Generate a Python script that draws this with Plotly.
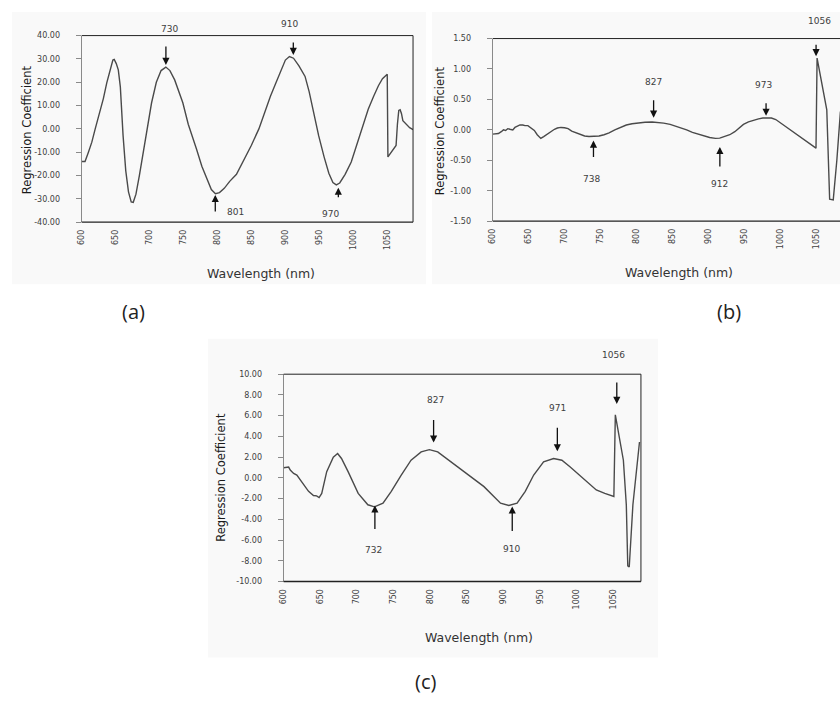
import plotly.graph_objects as go

W, H = 840, 702

# ---------------- data ----------------
wl_a = [600, 605, 610, 615, 620, 627, 632, 637, 641, 646, 648, 651, 654, 657, 661, 665, 669, 673, 676,
        680, 685, 690, 696, 703, 710, 717, 724, 730, 737, 743, 749, 757, 763, 769, 777, 785, 791, 797,
        803, 810, 818, 828, 840, 850, 861, 870, 878, 886, 893, 900, 906, 912, 920, 929, 935, 941, 949,
        957, 964, 970, 975, 980, 988, 997, 1005, 1013, 1022, 1030, 1037, 1043, 1048, 1050, 1051, 1055,
        1060, 1063, 1065, 1067, 1069, 1071, 1073, 1078, 1083, 1088]
coef_a = [-14, -14, -10, -5.7, 0, 7, 13, 19.7, 24, 29.5, 29.8, 28, 25.3, 18, -2.8, -18, -27, -31.3, -31.5,
          -28, -20, -11, 0, 11.2, 20, 25, 26.5, 25, 21, 16, 11.2, 2, -3, -8.5, -16, -22, -26, -27.8,
          -27.3, -25.5, -22.5, -19.5, -13, -7, 0, 7.5, 14, 19.7, 25, 29.5, 31, 30.3, 27, 22.5, 16, 8, -2.9,
          -12, -19, -23, -24, -23.2, -19.5, -14.2, -7, 1, 8.4, 14, 18.5, 21.5, 23.2, 23.4, -12, -10.5,
          -8.5, -7.1, 2, 7.9, 8.2, 6.5, 3.5, 1.8, 0.5, -0.3]

wl_b = [600, 605, 608, 612, 615, 618, 621, 624, 628, 631, 635, 638, 642, 645, 649, 653, 658, 662, 667,
        671, 676, 681, 686, 690, 695, 700, 705, 710, 716, 722, 728, 734, 741, 748, 755, 762, 770, 778,
        786, 794, 802, 812, 822, 830, 838, 847, 855, 862, 870, 878, 886, 894, 902, 910, 916, 922, 930,
        937, 943, 949, 956, 963, 970, 976, 982, 988, 994, 1000, 1009, 1018, 1026, 1033, 1041, 1050,
        1051.5, 1058, 1065, 1069, 1074, 1079, 1084]
coef_b = [-0.07, -0.07, -0.06, -0.03, 0.0, -0.01, 0.02, 0.01, 0.0, 0.04, 0.07, 0.08, 0.08, 0.07, 0.07,
          0.03, -0.01, -0.08, -0.14, -0.11, -0.07, -0.02, 0.01, 0.03, 0.04, 0.035, 0.02, -0.02, -0.05,
          -0.08, -0.1, -0.11, -0.11, -0.1, -0.08, -0.05, 0.0, 0.04, 0.08, 0.1, 0.115, 0.125, 0.13, 0.125,
          0.11, 0.09, 0.06, 0.03, 0.0, -0.04, -0.07, -0.1, -0.125, -0.14, -0.135, -0.11, -0.08, -0.03,
          0.03, 0.09, 0.13, 0.16, 0.18, 0.195, 0.2, 0.195, 0.17, 0.12, 0.04, -0.04, -0.11, -0.16, -0.23,
          -0.30, 1.18, 0.75, 0.33, -1.14, -1.15, -0.5, 0.3]

wl_c = [600, 606.8, 609, 613.6, 618, 625, 634, 640.7, 645, 648.4, 652, 658.8, 667.8, 673.7, 679, 688,
        701.8, 715, 724, 735.7, 747, 760.6, 774, 787.8, 799, 810.4, 828.4, 851, 873.6, 896.2, 907.5,
        918.8, 930, 941.5, 955, 968.7, 980, 991, 1009, 1027, 1038.6, 1051, 1053, 1064, 1068, 1070,
        1072, 1077, 1086]
coef_c = [0.98, 1.04, 0.75, 0.43, 0.27, -0.37, -1.3, -1.7, -1.74, -1.9, -1.5, 0.6, 2.0, 2.35, 1.87, 0.6,
          -1.5, -2.6, -2.8, -2.45, -1.3, 0.27, 1.7, 2.5, 2.72, 2.5, 1.55, 0.43, -0.85, -2.44, -2.66,
          -2.44, -1.3, 0.27, 1.55, 1.87, 1.7, 1.07, -0.05, -1.17, -1.5, -1.8, 6.08, 1.7, -2.6, -8.5,
          -8.6, -2.6, 3.46]

x_ticks = [600, 650, 700, 750, 800, 850, 900, 950, 1000, 1050]
y_ticks_a = [-40, -30, -20, -10, 0, 10, 20, 30, 40]
y_ticks_b = [-1.5, -1.0, -0.5, 0.0, 0.5, 1.0, 1.5]
y_ticks_c = [-10, -8, -6, -4, -2, 0, 2, 4, 6, 8, 10]

# peak marks: label, arrow-tip wavelength, arrow-tip coefficient, label wavelength, label coefficient
mark_lbl_a = ["730", "910", "801", "970"]
mark_x_a = [724.1, 911.7, 796.8, 978]
mark_y_a = [27.4, 31.7, -28.3, -25.2]
lbl_x_a = [730, 905.8, 826.7, 966.8]
lbl_y_a = [43, 44.8, -35.6, -36.3]

mark_lbl_b = ["1056", "827", "973", "738", "912"]
mark_x_b = [1050.1, 824, 980.5, 740.3, 916.2]
mark_y_b = [1.21, 0.20, 0.23, -0.175, -0.28]
lbl_x_b = [1054.3, 824, 977.1, 738.1, 916.2]
lbl_y_b = [1.79, 0.79, 0.74, -0.80, -0.895]

mark_lbl_c = ["1056", "827", "971", "732", "910"]
mark_x_c = [1055, 804.8, 973.8, 724.6, 912.2]
mark_y_c = [7.13, 3.40, 2.56, -2.66, -2.76]
lbl_x_c = [1050.9, 807, 973.8, 722.3, 911.3]
lbl_y_c = [11.85, 7.51, 6.75, -7.0, -6.9]

# ---------------- layout helpers ----------------
def px(x):
    return x / W

def py(y):
    return 1 - y / H

FONT = "DejaVu Sans"
LINE = "#4a4a4a"

fig = go.Figure()

panels = [
    dict(wl=wl_a, coef=coef_a, xd=(78, 411), yd=(32, 221), xr=[600, 1088], yr=[-40, 40],
         yt=y_ticks_a, lbl=mark_lbl_a, mx=mark_x_a, my=mark_y_a, lx=lbl_x_a, ly=lbl_y_a,
         alen=[20, 14, 18, 11], right=True, ytitle=(23, 127), xtitle=(258, 273),
         bg=(8, 8, 424, 284)),
    dict(wl=wl_b, coef=coef_b, xd=(491, 840), yd=(35, 220), xr=[600, 1083.4], yr=[-1.5, 1.5],
         yt=y_ticks_b, lbl=mark_lbl_b, mx=mark_x_b, my=mark_y_b, lx=lbl_x_b, ly=lbl_y_b,
         alen=[13, 19, 14, 18, 21], right=False, ytitle=(438, 128), xtitle=(678, 272),
         bg=(430, 8, 840, 284)),
    dict(wl=wl_c, coef=coef_c, xd=(281, 640), yd=(375, 585), xr=[600, 1088], yr=[-10, 10],
         yt=y_ticks_c, lbl=mark_lbl_c, mx=mark_x_c, my=mark_y_c, lx=lbl_x_c, ly=lbl_y_c,
         alen=[23, 24, 25, 25, 26], right=True, ytitle=(218, 479), xtitle=(477, 642),
         bg=(205, 339, 657, 662)),
]

shapes = []
annotations = []

for i, p in enumerate(panels):
    k = "" if i == 0 else str(i + 1)
    xa, ya = "x" + k, "y" + k
    fig.add_trace(go.Scatter(x=p["wl"], y=p["coef"], mode="lines", xaxis=xa, yaxis=ya,
                             line=dict(color=LINE, width=1.4), showlegend=False, hoverinfo="skip"))

    fig.update_layout(**{
        "xaxis" + k: dict(domain=[px(p["xd"][0]), px(p["xd"][1])], range=p["xr"], anchor=ya,
                          tickvals=x_ticks, ticktext=[str(v) for v in x_ticks], tickangle=-90,
                          showgrid=False, zeroline=False, showline=False, ticks="",
                          ticklabelstandoff=5,
                          tickfont=dict(family=FONT, size=8, color="#404040")),
        "yaxis" + k: dict(domain=[py(p["yd"][1]), py(p["yd"][0])], range=p["yr"], anchor=xa,
                          tickvals=p["yt"], ticktext=["%.2f" % v for v in p["yt"]],
                          showgrid=False, zeroline=False, showline=True, linecolor="#8a8a8a",
                          linewidth=1, ticks="outside", ticklen=5, tickcolor="#8a8a8a",
                          ticklabelstandoff=14,
                          tickfont=dict(family=FONT, size=8, color="#404040")),
    })

    # panel background
    x0, y0, x1, y1 = p["bg"]
    shapes.append(dict(type="rect", xref="paper", yref="paper", x0=px(x0), x1=px(x1),
                       y0=py(y1), y1=py(y0), fillcolor="#f9f9f9", line=dict(width=0), layer="below"))
    # frame lines (top, bottom, right)
    dref = dict(xref=xa + " domain", yref=ya + " domain")
    shapes.append(dict(type="line", x0=0, x1=1, y0=1, y1=1, line=dict(color="#222", width=1), **dref))
    shapes.append(dict(type="line", x0=0, x1=1, y0=0, y1=0, line=dict(color="#222", width=1.3), **dref))
    if p["right"]:
        shapes.append(dict(type="line", x0=1, x1=1, y0=0, y1=1, line=dict(color="#222", width=1), **dref))

    # arrows + labels
    y0r, y1r = p["yr"]
    for lb, mx, my, lx, ly, al in zip(p["lbl"], p["mx"], p["my"], p["lx"], p["ly"], p["alen"]):
        ay = -al if ly > my else al
        annotations.append(dict(x=mx, y=my, xref=xa, yref=ya, text="", showarrow=True,
                                arrowhead=2, arrowsize=1.1, arrowwidth=1.3, arrowcolor="#111",
                                ax=0, ay=ay, standoff=0))
        annotations.append(dict(x=lx, y=(ly - y0r) / (y1r - y0r), xref=xa, yref=ya + " domain",
                                text=lb, showarrow=False, xanchor="center", yanchor="middle",
                                font=dict(family=FONT, size=9, color="#404040")))

    # axis titles
    annotations.append(dict(x=px(p["ytitle"][0]), y=py(p["ytitle"][1]), xref="paper", yref="paper",
                            text="Regression Coefficient", textangle=-90, showarrow=False,
                            xanchor="center", yanchor="middle",
                            font=dict(family=FONT, size=11.5, color="#1a1a1a")))
    annotations.append(dict(x=px(p["xtitle"][0]), y=py(p["xtitle"][1]), xref="paper", yref="paper",
                            text="Wavelength (nm)", showarrow=False, xanchor="center", yanchor="middle",
                            font=dict(family=FONT, size=12.5, color="#333")))

# panel captions
for t, (cx, cy) in zip(["(a)", "(b)", "(c)"], [(130, 311), (728, 311), (424, 686)]):
    annotations.append(dict(x=px(cx), y=py(cy), xref="paper", yref="paper", text=t, showarrow=False,
                            xanchor="center", yanchor="middle",
                            font=dict(family="Open Sans", size=20, color="#222")))

fig.update_layout(width=W, height=H, margin=dict(l=0, r=0, t=0, b=0),
                  paper_bgcolor="white", plot_bgcolor="rgba(0,0,0,0)",
                  shapes=shapes, annotations=annotations, showlegend=False)

fig.write_html("out.html")
